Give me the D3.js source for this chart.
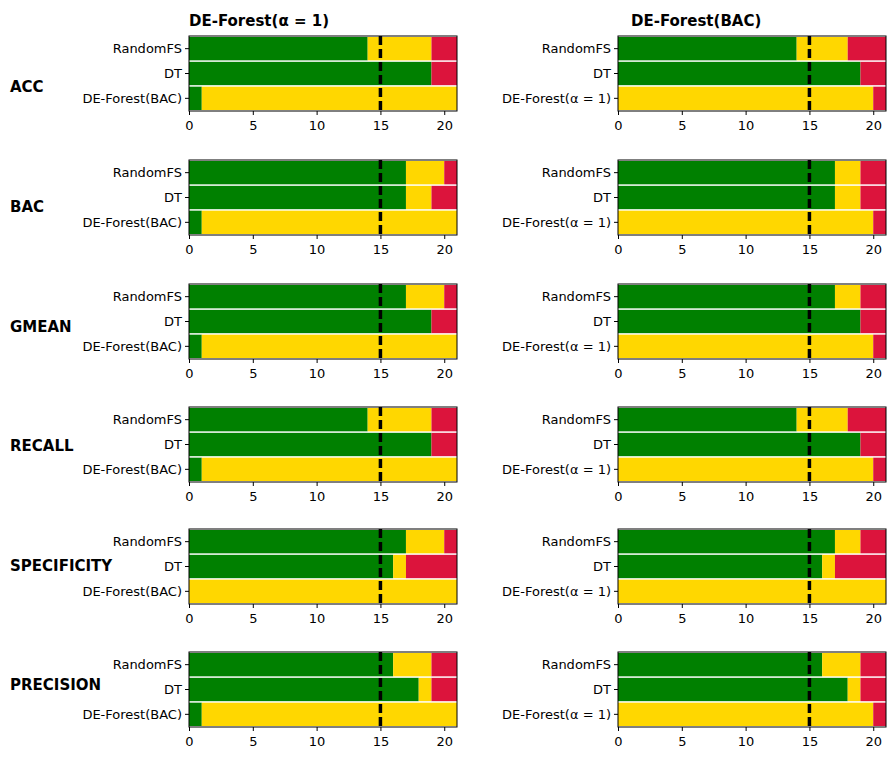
<!DOCTYPE html>
<html><head><meta charset="utf-8">
<script src="https://cdn.jsdelivr.net/npm/d3@7"></script>
<style>body{margin:0;background:#fff;font-family:"DejaVu Sans",sans-serif}</style>
</head><body><div id="chart"></div>
<script>
(function() {
    // Metrics (rows) and compared methods
    const metrics = ["ACC", "BAC", "GMEAN", "RECALL", "SPECIFICITY", "PRECISION"];
    const titles = ["DE-Forest(α = 1)", "DE-Forest(BAC)"];
    const leftMethods = ["RandomFS", "DT", "DE-Forest(BAC)"];
    const rightMethods = ["RandomFS", "DT", "DE-Forest(α = 1)"];
    const ticks = [0, 5, 10, 15, 20];
    const colors = ["green", "gold", "crimson"];
    const critical = 15;

    // [win, tie, loss] per method, per metric
    const leftWins = [
        [[14, 5, 2], [19, 0, 2], [1, 20, 0]],
        [[17, 3, 1], [17, 2, 2], [1, 20, 0]],
        [[17, 3, 1], [19, 0, 2], [1, 20, 0]],
        [[14, 5, 2], [19, 0, 2], [1, 20, 0]],
        [[17, 3, 1], [16, 1, 4], [0, 21, 0]],
        [[16, 3, 2], [18, 1, 2], [1, 20, 0]]
    ];
    const rightWins = [
        [[14, 4, 3], [19, 0, 2], [0, 20, 1]],
        [[17, 2, 2], [17, 2, 2], [0, 20, 1]],
        [[17, 2, 2], [19, 0, 2], [0, 20, 1]],
        [[14, 4, 3], [19, 0, 2], [0, 20, 1]],
        [[17, 2, 2], [16, 1, 4], [0, 21, 0]],
        [[16, 3, 2], [18, 1, 2], [0, 20, 1]]
    ];

    const svg = d3.select("#chart").append("svg")
        .attr("width", 896).attr("height", 762);

    const colX = [189, 618];
    const plotW = 268, plotH = 75;
    const rowTops = [36, 160, 284, 407, 529, 652];
    const labelY = [92, 212, 332, 451, 571, 690];

    const x = d3.scaleLinear().domain([0, 21]).range([0, plotW]);

    titles.forEach((t, c) => {
        svg.append("text").attr("x", colX[c] + (c ? 13 : 0)).attr("y", 26)
            .attr("font-size", 15).attr("font-weight", "bold").text(t);
    });

    metrics.forEach((m, r) => {
        svg.append("text").attr("x", 10).attr("y", labelY[r])
            .attr("font-size", 15).attr("font-weight", "bold").text(m);

        [leftWins, rightWins].forEach((data, c) => {
            const methods = c ? rightMethods : leftMethods;
            const g = svg.append("g").attr("transform", `translate(${colX[c]},${rowTops[r]})`);
            const y = d3.scaleBand().domain(methods).range([0, plotH]).paddingInner(0.06).paddingOuter(0.04);

            methods.forEach((name, i) => {
                let acc = 0;
                data[r][i].forEach((v, k) => {
                    g.append("rect")
                        .attr("x", x(acc)).attr("y", y(name))
                        .attr("width", x(acc + v) - x(acc)).attr("height", y.bandwidth())
                        .attr("fill", colors[k]);
                    acc += v;
                });
            });

            g.append("line").attr("x1", x(critical)).attr("x2", x(critical))
                .attr("y1", 0).attr("y2", plotH)
                .attr("stroke", "black").attr("stroke-width", 3.5).attr("stroke-dasharray", "9,4");

            g.append("rect").attr("width", plotW).attr("height", plotH)
                .attr("fill", "none").attr("stroke", "black").attr("stroke-width", 1);

            const xa = g.append("g").attr("transform", `translate(0,${plotH})`)
                .call(d3.axisBottom(x).tickValues(ticks).tickSize(4).tickSizeOuter(0));
            xa.select(".domain").remove();
            xa.selectAll("text").attr("font-size", 13).attr("font-family", "DejaVu Sans").attr("fill", "black").attr("dy", "0.9em");

            const ya = g.append("g").call(d3.axisLeft(y).tickSize(4).tickSizeOuter(0));
            ya.select(".domain").remove();
            ya.selectAll("text").attr("font-size", 13).attr("font-family", "DejaVu Sans").attr("fill", "black");
        });
    });
})();
</script>
</body></html>
